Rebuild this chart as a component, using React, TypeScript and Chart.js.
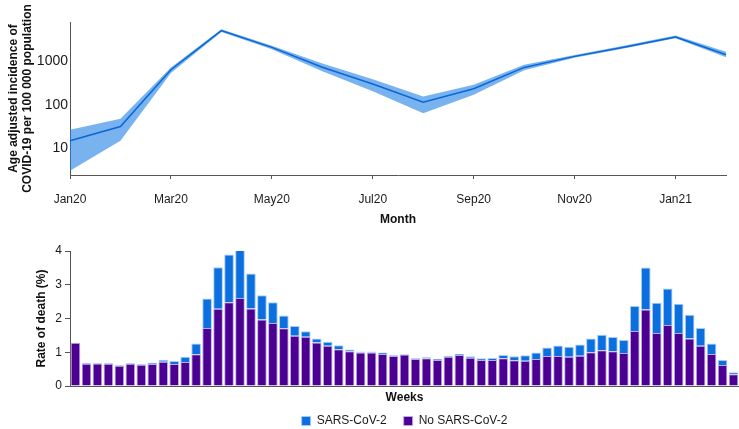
import React, { useEffect, useRef } from 'react';
import { Chart, registerables } from 'chart.js';

Chart.register(...registerables);

// ---- Top panel: monthly age adjusted incidence (log scale) ----
const months = ['Jan20', 'Feb20', 'Mar20', 'Apr20', 'May20', 'Jun20', 'Jul20', 'Aug20', 'Sep20', 'Oct20', 'Nov20', 'Dec20', 'Jan21', 'Feb21'];
const incidence = [14.8, 31.5, 643, 5120, 2104, 735, 301, 115, 234, 727, 1305, 2150, 3660, 1428];
const incidenceUpper = [26.5, 47.5, 727, 5480, 2300, 900, 388, 156, 290, 839, 1410, 2320, 3930, 1680];
const incidenceLower = [3.0, 14.8, 540, 4770, 1910, 590, 205, 64, 170, 626, 1210, 2000, 3420, 1250];
const incidenceTicks = [10, 100, 1000];

// ---- Bottom panel: weekly rate of death (%) ----
const weeks = [
  'W1', 'W2', 'W3', 'W4', 'W5', 'W6', 'W7', 'W8', 'W9', 'W10',
  'W11', 'W12', 'W13', 'W14', 'W15', 'W16', 'W17', 'W18', 'W19', 'W20',
  'W21', 'W22', 'W23', 'W24', 'W25', 'W26', 'W27', 'W28', 'W29', 'W30',
  'W31', 'W32', 'W33', 'W34', 'W35', 'W36', 'W37', 'W38', 'W39', 'W40',
  'W41', 'W42', 'W43', 'W44', 'W45', 'W46', 'W47', 'W48', 'W49', 'W50',
  'W51', 'W52', 'W53', 'W54', 'W55', 'W56', 'W57', 'W58', 'W59', 'W60',
  'W61',
];
const noSarsCoV2 = [
  1.28, 0.66, 0.67, 0.66, 0.60, 0.66, 0.63, 0.65, 0.72, 0.65,
  0.71, 0.94, 1.72, 2.29, 2.48, 2.61, 2.30, 1.97, 1.87, 1.71,
  1.49, 1.46, 1.29, 1.19, 1.09, 1.03, 0.99, 0.99, 0.95, 0.89,
  0.93, 0.80, 0.82, 0.77, 0.87, 0.92, 0.84, 0.77, 0.77, 0.82,
  0.76, 0.75, 0.80, 0.89, 0.89, 0.87, 0.90, 1.00, 1.06, 1.03,
  0.98, 1.63, 2.27, 1.57, 1.81, 1.57, 1.41, 1.19, 0.95, 0.62,
  0.35,
];
const sarsCoV2 = [
  0.00, 0.03, 0.02, 0.02, 0.02, 0.02, 0.02, 0.04, 0.06, 0.09,
  0.16, 0.32, 0.87, 1.23, 1.42, 1.46, 1.03, 0.72, 0.61, 0.38,
  0.29, 0.16, 0.12, 0.12, 0.12, 0.05, 0.03, 0.03, 0.04, 0.02,
  0.02, 0.02, 0.03, 0.03, 0.03, 0.03, 0.04, 0.05, 0.06, 0.10,
  0.12, 0.16, 0.19, 0.25, 0.31, 0.29, 0.33, 0.41, 0.46, 0.42,
  0.38, 0.74, 1.24, 0.90, 1.08, 0.87, 0.70, 0.53, 0.31, 0.15,
  0.06,
];
const deathTicks = [0, 1, 2, 3, 4];

const FONT = "'Liberation Sans', Arial, Helvetica, sans-serif";
const AXIS = '#555555';
const TEXT = '#1a1a1a';

export default function App() {
  const topRef = useRef<HTMLCanvasElement>(null);
  const botRef = useRef<HTMLCanvasElement>(null);

  useEffect(() => {
    Chart.defaults.font.family = FONT;
    Chart.defaults.color = TEXT;

    const top = new Chart(topRef.current as HTMLCanvasElement, {
      type: 'line',
      data: {
        labels: months,
        datasets: [
          {
            label: 'Incidence',
            data: incidence,
            borderColor: '#0a66d4',
            borderWidth: 1.5,
            pointRadius: 0,
            fill: false,
            tension: 0,
          },
          {
            label: 'Upper',
            data: incidenceUpper,
            borderColor: 'rgba(0,0,0,0)',
            borderWidth: 0,
            pointRadius: 0,
            fill: '+1',
            backgroundColor: 'rgba(30,128,230,0.6)',
            tension: 0,
          },
          {
            label: 'Lower',
            data: incidenceLower,
            borderColor: 'rgba(0,0,0,0)',
            borderWidth: 0,
            pointRadius: 0,
            fill: false,
            tension: 0,
          },
        ],
      },
      options: {
        responsive: false,
        animation: false,
        layout: { padding: { top: 22, right: 9, left: 0, bottom: 0 } },
        plugins: { legend: { display: false }, tooltip: { enabled: false } },
        scales: {
          x: {
            type: 'category',
            offset: false,
            grid: {
              drawOnChartArea: false,
              tickLength: 4,
              tickColor: (ctx: any) => (ctx.index % 2 === 0 ? AXIS : 'rgba(0,0,0,0)'),
            },
            border: { display: true, color: AXIS, width: 1 },
            ticks: {
              autoSkip: false,
              maxRotation: 0,
              padding: 13,
              font: { size: 12 },
              color: TEXT,
              callback: (_v: any, i: number) => (i % 2 === 0 ? months[i] : ''),
            },
            title: {
              display: true,
              text: 'Month',
              font: { size: 12, weight: 'bold' },
              color: '#111',
              padding: { top: 0, bottom: 1 },
            },
            afterFit: (s: any) => {
              s.height = 53;
            },
          },
          y: {
            type: 'logarithmic',
            min: 2.4,
            max: 8100,
            afterBuildTicks: (s: any) => {
              s.ticks = incidenceTicks.map((v) => ({ value: v }));
            },
            grid: { display: false, drawTicks: false, tickLength: 0 },
            border: { display: true, color: AXIS, width: 1 },
            ticks: {
              padding: 2,
              font: { size: 14 },
              color: TEXT,
              callback: (v: any) => String(v),
            },
            title: {
              display: true,
              text: ['Age adjusted incidence of', 'COVID-19 per 100 000 population'],
              font: { size: 12, weight: 'bold', lineHeight: 1.2 },
              color: '#111',
              padding: { top: 6, bottom: 0 },
            },
            afterFit: (s: any) => {
              s.width = 70;
            },
          },
        },
      },
    } as any);

    const bot = new Chart(botRef.current as HTMLCanvasElement, {
      type: 'bar',
      data: {
        labels: weeks,
        datasets: [
          {
            label: 'No SARS-CoV-2',
            data: noSarsCoV2,
            backgroundColor: '#4b0092',
            borderColor: '#bcaae8',
            borderWidth: 1,
          },
          {
            label: 'SARS-CoV-2',
            data: sarsCoV2,
            backgroundColor: '#0b6fdf',
            borderColor: '#a3cdf7',
            borderWidth: 1,
          },
        ],
      },
      options: {
        responsive: false,
        animation: false,
        layout: { padding: { top: 23, left: 30, right: 0, bottom: 0 } },
        datasets: { bar: { categoryPercentage: 1, barPercentage: 0.88 } },
        plugins: {
          tooltip: { enabled: false },
          legend: {
            position: 'bottom',
            reverse: true,
            fullSize: false,
            labels: {
              boxWidth: 9,
              boxHeight: 9,
              padding: 17,
              font: { size: 12 },
              color: TEXT,
            },
          },
        },
        scales: {
          x: {
            stacked: true,
            grid: { display: false },
            border: { display: true, color: AXIS, width: 1 },
            ticks: { display: false },
            title: {
              display: true,
              text: 'Weeks',
              font: { size: 12, weight: 'bold' },
              color: '#111',
              padding: { top: 0, bottom: -7 },
            },
            afterFit: (s: any) => {
              s.height = 12;
            },
          },
          y: {
            stacked: true,
            min: 0,
            max: 4,
            afterBuildTicks: (s: any) => {
              s.ticks = deathTicks.map((v) => ({ value: v }));
            },
            grid: { drawOnChartArea: false, tickLength: 5, color: AXIS },
            border: { display: true, color: AXIS, width: 1 },
            ticks: { padding: 3, font: { size: 12 }, color: TEXT },
            title: {
              display: true,
              text: 'Rate of death (%)',
              font: { size: 12, weight: 'bold' },
              color: '#111',
              padding: { top: 4, bottom: 0 },
            },
            afterFit: (s: any) => {
              s.width = 40;
            },
          },
        },
      },
    } as any);

    return () => {
      top.destroy();
      bot.destroy();
    };
  }, []);

  return (
    <div style={{ position: 'absolute', left: 0, top: 0, width: 739, height: 429, overflow: 'hidden', background: '#fff' }}>
      <canvas ref={topRef} width={739} height={228} style={{ position: 'absolute', left: 0, top: 0 }} />
      <canvas ref={botRef} width={739} height={209} style={{ position: 'absolute', left: 0, top: 228 }} />
    </div>
  );
}
